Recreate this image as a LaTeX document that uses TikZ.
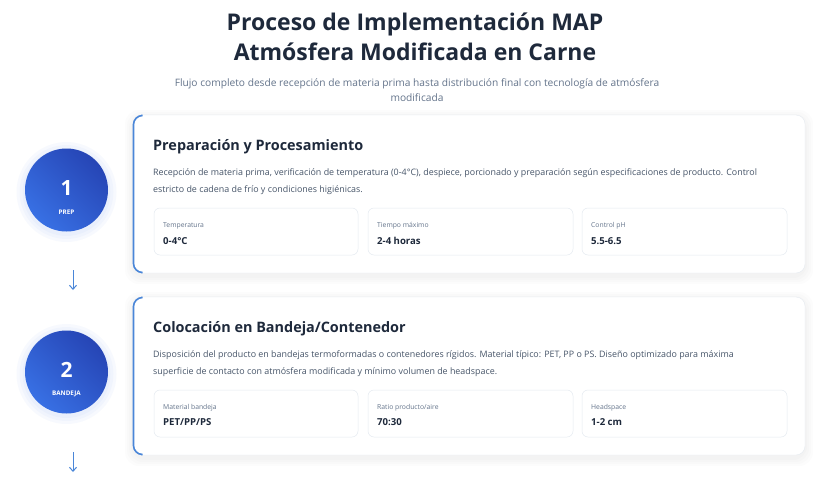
\documentclass[tikz,border=0pt]{standalone}
\usepackage{fontspec}
\setmainfont{Open Sans}
\usetikzlibrary{arrows.meta}
\definecolor{ink}{HTML}{1E293B}
\definecolor{txt}{HTML}{475569}
\definecolor{mut}{HTML}{64748B}
\definecolor{edge}{HTML}{E5EAF0}
\definecolor{blueA}{HTML}{3870E4}
\definecolor{blueB}{HTML}{2645B5}
\definecolor{bar}{HTML}{4A86D8}

\begin{document}
\begin{tikzpicture}[x=1pt, y=-1pt,
  card/.style = {fill=white, draw=edge, line width=.4pt, rounded corners=9pt},
  halo/.style = {fill=black, opacity=.012, rounded corners=14pt},
  stepdot/.style = {circle, minimum size=83pt, inner sep=0pt, shading=axis, left color=blueA, right color=blueB, shading angle=135},
  dottag/.style = {font=\fontsize{6.3}{7}\selectfont\bfseries, text=white},
  dotnum/.style = {font=\fontsize{21}{21}\selectfont\bfseries, text=white},
  metric/.style = {fill=white, draw=edge, line width=.5pt, rounded corners=6pt},
  mlabel/.style = {anchor=base west, inner sep=0pt, font=\fontsize{6.8}{8}\selectfont, text=mut},
  mvalue/.style = {anchor=base west, inner sep=0pt, font=\fontsize{9.6}{11}\selectfont\bfseries, text=ink},
  ctitle/.style = {anchor=base west, inner sep=0pt, font=\fontsize{14.4}{16}\selectfont\bfseries, text=ink},
  ctext/.style = {anchor=north west, inner sep=0pt, align=left, font=\fontsize{8.9}{17}\selectfont, text=txt},
  flow/.style = {draw=bar, line width=1pt, -{Straight Barb[length=4pt, width=7pt]}}]
\useasboundingbox (0,0) rectangle (830,480);
\fill[white] (0,0) rectangle (830,480);

% heading
\node (head) [align=center, font=\fontsize{23}{30}\selectfont\bfseries, text=ink] at (415,37)
  {Proceso de Implementación MAP\\Atmósfera Modificada en Carne};
\node (sub) [align=center, font=\fontsize{10.2}{15}\selectfont, text=mut] at (417,90)
  {Flujo completo desde recepción de materia prima hasta distribución final con tecnología de atmósfera\\modificada};

% step 1
\foreach \g in {2,4,6,8} \fill[halo] (133-\g,115-\g+3) rectangle (805+\g,273+\g+3);
\draw[card] (133,115) rectangle (805,273);
\draw[bar, line width=1.6pt, rounded corners=9pt] (141,115.5) -- (133.5,115.5) -- (133.5,272.5) -- (141,272.5);
\foreach \g in {44,47,50} \fill[blueA, opacity=.035] (66.5,192) circle (\g);
\node (s1) [stepdot] at (66.5,190) {};
\node (n1) [dotnum] at (66.5,188) {1};
\node (l1) [dottag] at (66.5,212) {PREP};
\node (t1) [ctitle] at (153,150) {Preparación y Procesamiento};
\node (d1) [ctext] at (153,168) {Recepción de materia prima, verificación de temperatura (0-4°C), despiece, porcionado y preparación según especificaciones de producto. Control\\estricto de cadena de frío y condiciones higiénicas.};
\draw[metric] (154,208) rectangle (358,255);
\draw[metric] (368,208) rectangle (573,255);
\draw[metric] (582,208) rectangle (787,255);
\node (k1a) [mlabel] at (163,227) {Temperatura};
\node (v1a) [mvalue] at (163,244) {0-4°C};
\node (k1b) [mlabel] at (377,227) {Tiempo máximo};
\node (v1b) [mvalue] at (377,244) {2-4 horas};
\node (k1c) [mlabel] at (591,227) {Control pH};
\node (v1c) [mvalue] at (591,244) {5.5-6.5};

\coordinate (a1) at (73,270);
\coordinate (b1) at (73,290);
\draw[flow] (a1) -- (b1);

% step 2
\foreach \g in {2,4,6,8} \fill[halo] (133-\g,297-\g+3) rectangle (805+\g,455+\g+3);
\draw[card] (133,297) rectangle (805,455);
\draw[bar, line width=1.6pt, rounded corners=9pt] (141,297.5) -- (133.5,297.5) -- (133.5,454.5) -- (141,454.5);
\foreach \g in {44,47,50} \fill[blueA, opacity=.035] (66.5,374) circle (\g);
\node (s2) [stepdot] at (66.5,372) {};
\node (n2) [dotnum] at (66.5,370) {2};
\node (l2) [dottag] at (66.5,394) {BANDEJA};
\node (t2) [ctitle] at (153,332) {Colocación en Bandeja/Contenedor};
\node (d2) [ctext] at (153,350) {Disposición del producto en bandejas termoformadas o contenedores rígidos. Material típico: PET, PP o PS. Diseño optimizado para máxima\\superficie de contacto con atmósfera modificada y mínimo volumen de headspace.};
\draw[metric] (154,390) rectangle (358,437);
\draw[metric] (368,390) rectangle (573,437);
\draw[metric] (582,390) rectangle (787,437);
\node (k2a) [mlabel] at (163,409) {Material bandeja};
\node (v2a) [mvalue] at (163,425) {PET/PP/PS};
\node (k2b) [mlabel] at (377,409) {Ratio producto/aire};
\node (v2b) [mvalue] at (377,425) {70:30};
\node (k2c) [mlabel] at (591,409) {Headspace};
\node (v2c) [mvalue] at (591,425) {1-2 cm};

\coordinate (a2) at (73,452);
\coordinate (b2) at (73,472);
\draw[flow] (a2) -- (b2);
\end{tikzpicture}
\end{document}
